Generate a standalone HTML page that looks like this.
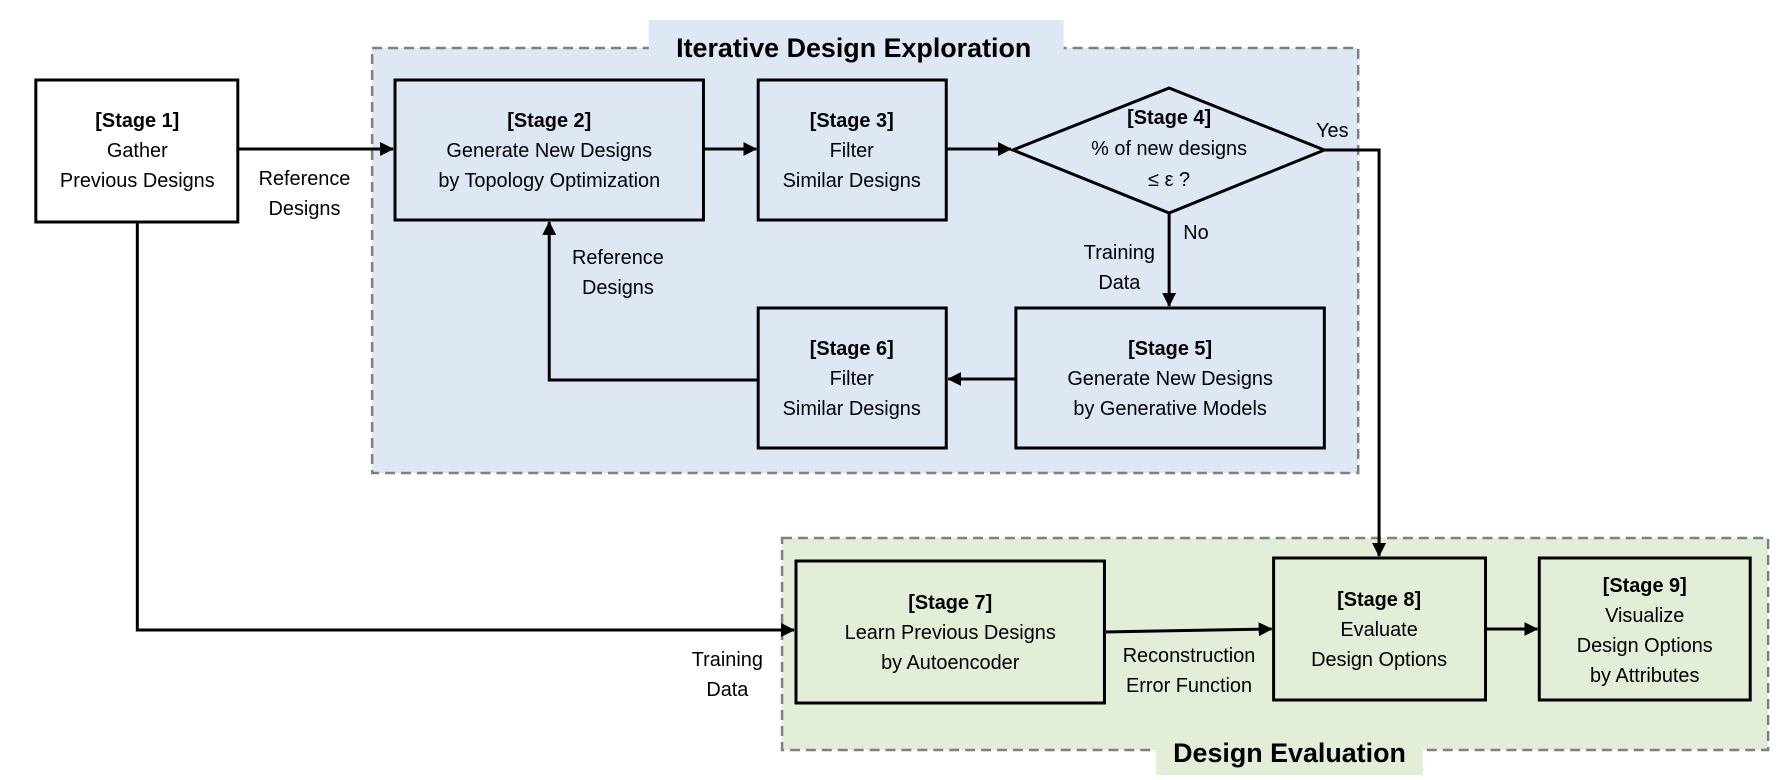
<!DOCTYPE html>
<html><head><style>body{margin:0;background:#fff}svg{display:block}</style></head><body>
<svg width="1778" height="780" viewBox="0 0 1778 780" xmlns="http://www.w3.org/2000/svg" font-family="Liberation Sans, sans-serif" font-size="20" text-anchor="middle">
<defs><marker id="a" markerWidth="14" markerHeight="14" refX="13" refY="7" orient="auto" markerUnits="userSpaceOnUse"><path d="M0,0 L14,7 L0,14 z" fill="#000"/></marker></defs>
<g transform="scale(0.995,1)">
<rect x="374" y="48" width="991" height="425" fill="#dde8f4" stroke="#808080" stroke-width="2.5" stroke-dasharray="10,6"/>
<rect x="652" y="20" width="417" height="42" fill="#dde8f4"/>
<text x="858" y="57" font-size="27" font-weight="bold">Iterative Design Exploration</text>
<rect x="786" y="538" width="991" height="212" fill="#e3eed8" stroke="#808080" stroke-width="2.5" stroke-dasharray="10,6"/>
<rect x="1162" y="729" width="268" height="46" fill="#e3eed8"/>
<text x="1296" y="762" font-size="27" font-weight="bold">Design Evaluation</text>
<g stroke="#000" stroke-width="3" fill="none">
<path d="M239 149 H395" marker-end="url(#a)"/>
<path d="M138 222 V630 H798" marker-end="url(#a)"/>
<path d="M707 149 H760" marker-end="url(#a)"/>
<path d="M951 149 H1016" marker-end="url(#a)"/>
<path d="M1331 150 H1386 V556" marker-end="url(#a)"/>
<path d="M1175 213 V306" marker-end="url(#a)"/>
<path d="M1021 379 H953" marker-end="url(#a)"/>
<path d="M762 380 H552 V222" marker-end="url(#a)"/>
<path d="M1110 632 L1278 629" marker-end="url(#a)"/>
<path d="M1493 629 H1545" marker-end="url(#a)"/>
</g>
<g stroke="#000" stroke-width="3">
<rect x="36" y="80" width="203" height="142" fill="#fff"/>
<rect x="397" y="80" width="310" height="140" fill="#dde8f4"/>
<rect x="762" y="80" width="189" height="140" fill="#dde8f4"/>
<path d="M1018 150 L1175 88 L1331 150 L1175 213 Z" fill="#dde8f4"/>
<rect x="1021" y="308" width="310" height="140" fill="#dde8f4"/>
<rect x="762" y="308" width="189" height="140" fill="#dde8f4"/>
<rect x="800" y="561" width="310" height="142" fill="#e3eed8"/>
<rect x="1280" y="558" width="213" height="142" fill="#e3eed8"/>
<rect x="1547" y="558" width="212" height="142" fill="#e3eed8"/>
</g>
<g>
<text x="138" y="127" font-weight="bold">[Stage 1]</text><text x="138" y="157">Gather</text><text x="138" y="187">Previous Designs</text>
<text x="552" y="127" font-weight="bold">[Stage 2]</text><text x="552" y="157">Generate New Designs</text><text x="552" y="187">by Topology Optimization</text>
<text x="856" y="127" font-weight="bold">[Stage 3]</text><text x="856" y="157">Filter</text><text x="856" y="187">Similar Designs</text>
<text x="1175" y="124" font-weight="bold">[Stage 4]</text><text x="1175" y="155">% of new designs</text><text x="1175" y="186">≤ ε ?</text>
<text x="1176" y="355" font-weight="bold">[Stage 5]</text><text x="1176" y="385">Generate New Designs</text><text x="1176" y="415">by Generative Models</text>
<text x="856" y="355" font-weight="bold">[Stage 6]</text><text x="856" y="385">Filter</text><text x="856" y="415">Similar Designs</text>
<text x="955" y="609" font-weight="bold">[Stage 7]</text><text x="955" y="639">Learn Previous Designs</text><text x="955" y="669">by Autoencoder</text>
<text x="1386" y="606" font-weight="bold">[Stage 8]</text><text x="1386" y="636">Evaluate</text><text x="1386" y="666">Design Options</text>
<text x="1653" y="592" font-weight="bold">[Stage 9]</text><text x="1653" y="622">Visualize</text><text x="1653" y="652">Design Options</text><text x="1653" y="682">by Attributes</text>
<text x="306" y="185">Reference</text><text x="306" y="215">Designs</text>
<text x="621" y="264">Reference</text><text x="621" y="294">Designs</text>
<text x="1339" y="137">Yes</text>
<text x="1202" y="239">No</text>
<text x="1125" y="259">Training</text><text x="1125" y="289">Data</text>
<text x="731" y="666">Training</text><text x="731" y="696">Data</text>
<text x="1195" y="662">Reconstruction</text><text x="1195" y="692">Error Function</text>
</g>
</g>
</svg>
</body></html>
